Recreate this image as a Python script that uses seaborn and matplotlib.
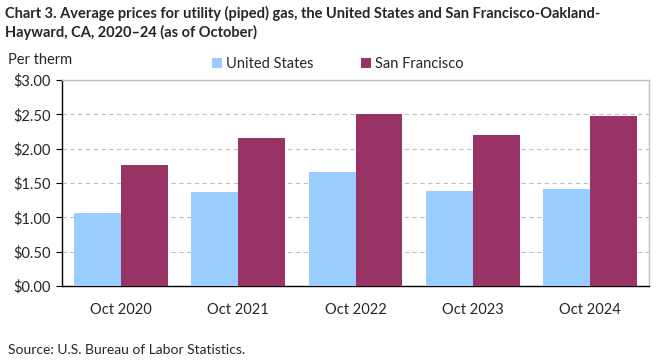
import pandas as pd
import seaborn as sns
import matplotlib.pyplot as plt

periods = ['Oct 2020', 'Oct 2021', 'Oct 2022', 'Oct 2023', 'Oct 2024']
us_prices = [1.06, 1.37, 1.66, 1.38, 1.41]
sf_prices = [1.76, 2.16, 2.51, 2.20, 2.48]
series_names = ['United States', 'San Francisco']
colors = ['#99ccff', '#993366']

df = pd.DataFrame({
    'period': periods * 2,
    'price': us_prices + sf_prices,
    'area': [series_names[0]] * len(periods) + [series_names[1]] * len(periods),
})

sns.set_style('white')
plt.rcParams['font.family'] = ['Lato', 'DejaVu Sans']

fig = plt.figure(figsize=(6.61, 3.61), dpi=100)
ax = fig.add_axes([62 / 661, 1 - 286 / 361, 587 / 661, 206 / 361])

sns.barplot(data=df, x='period', y='price', hue='area', palette=colors,
            width=0.8, saturation=1, linewidth=0, ax=ax, legend=True, zorder=3)

ax.set_ylim(0, 3)
ax.set_yticks([0, 0.5, 1, 1.5, 2, 2.5, 3])
ax.set_yticklabels(['$%.2f' % v for v in ax.get_yticks()], fontsize=10.5)
ax.tick_params(axis='x', labelsize=10.5, length=0, pad=12)
ax.tick_params(axis='y', length=4, width=0.8, left=True, pad=4, color='black')
ax.set_xlim(-0.5, 4.5)
ax.set_xlabel('')
ax.set_ylabel('')

# dashed horizontal gridlines behind the bars
ax.yaxis.grid(True, color='#c0c0c0', linestyle=(0, (4, 3)), linewidth=0.8, zorder=0)
for side in ['top', 'right']:
    ax.spines[side].set_color('#bfbfbf')
    ax.spines[side].set_linewidth(1)
for side in ['left', 'bottom']:
    ax.spines[side].set_color('black')
    ax.spines[side].set_linewidth(1)

ax.legend(loc='lower center', bbox_to_anchor=(0.47, 1.0), ncol=2, frameon=False,
          fontsize=10.5, handlelength=0.7, handleheight=0.7, handletextpad=0.3,
          columnspacing=3.2, borderaxespad=0.2)

fig.text(5 / 661, 1 - 6 / 361, 'Chart 3. Average prices for utility (piped) gas, the United States and San Francisco-Oakland-\nHayward, CA, 2020\u201324 (as of October)',
         ha='left', va='top', fontsize=10.5, fontweight='bold', linespacing=1.35)
fig.text(8 / 661, 1 - 60 / 361, 'Per therm', ha='left', va='center', fontsize=10.5)
fig.text(8 / 661, 1 - 350 / 361, 'Source: U.S. Bureau of Labor Statistics.', ha='left', va='center', fontsize=10)

plt.savefig('out.png', dpi=100)
plt.close()
